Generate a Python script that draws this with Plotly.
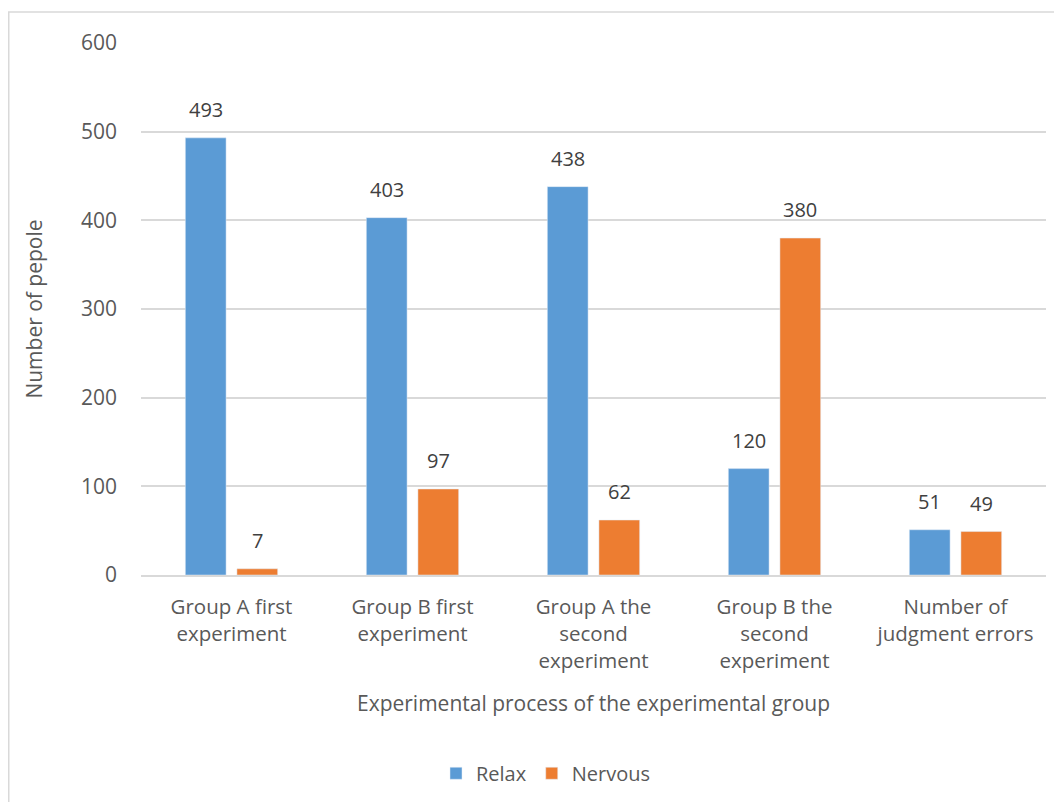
import plotly.graph_objects as go

categories = [
    "Group A first<br>experiment",
    "Group B first<br>experiment",
    "Group A the<br>second<br>experiment",
    "Group B the<br>second<br>experiment",
    "Number of<br>judgment errors",
]
relax = [493, 403, 438, 120, 51]
nervous = [7, 97, 62, 380, 49]

FONT = "Open Sans, Liberation Sans, sans-serif"
TXT = "#595959"
LBL = "#404040"

ML, MR, MT, MB = 133, 24, 35, 235
PLOT_W = 1062 - ML - MR
PLOT_H = 802 - MT - MB
CAT_W = PLOT_W / len(categories)
BARGAP = 0.43
SLOT = CAT_W * (1 - BARGAP) / 2

fig = go.Figure()
fig.add_trace(go.Bar(name="Relax", x=categories, y=relax, marker_color="#5B9BD5"))
fig.add_trace(go.Bar(name="Nervous", x=categories, y=nervous, marker_color="#ED7D31"))

for series, sign in ((relax, -1), (nervous, 1)):
    for c, v in zip(categories, series):
        fig.add_annotation(x=c, y=v, text=str(v), showarrow=False,
                           xshift=sign * SLOT / 2, yshift=13, yanchor="bottom",
                           font=dict(size=20, color=LBL, family=FONT))

fig.update_layout(
    width=1062, height=802,
    margin=dict(l=ML, r=MR, t=MT, b=MB, autoexpand=False),
    paper_bgcolor="white", plot_bgcolor="white",
    barmode="group", bargap=BARGAP, bargroupgap=0.21,
    font=dict(family=FONT, color=TXT, size=20),
    legend=dict(orientation="h", x=(538 - ML) / PLOT_W, xanchor="center", y=-0.336, yanchor="top",
                font=dict(size=20, color=TXT), traceorder="normal"),
    showlegend=True,
)
fig.update_yaxes(
    range=[0, 600], dtick=100, showgrid=True, gridcolor="#D9D9D9", gridwidth=1.5,
    zeroline=False, showline=False, ticks="", ticklabelstandoff=23, automargin=False,
    tickfont=dict(size=21, color=TXT),
    title=dict(text="Number of pepole", font=dict(size=21, color=TXT), standoff=32),
)
fig.update_xaxes(
    showline=True, linecolor="#D9D9D9", linewidth=1.5, ticks="", automargin=False,
    ticklabelstandoff=13,
    tickfont=dict(size=20.5, color=TXT),
    title=dict(text="Experimental process of the experimental group",
               font=dict(size=21, color=TXT), standoff=24),
)
fig.add_shape(type="rect", xref="paper", yref="paper",
              x0=(0.75 - ML) / PLOT_W, x1=1.2, y0=-1.0, y1=(PLOT_H + MT - 4) / PLOT_H,
              line=dict(color="#D9D9D9", width=1.5), fillcolor="rgba(0,0,0,0)", layer="below")

fig.write_html("out.html")
